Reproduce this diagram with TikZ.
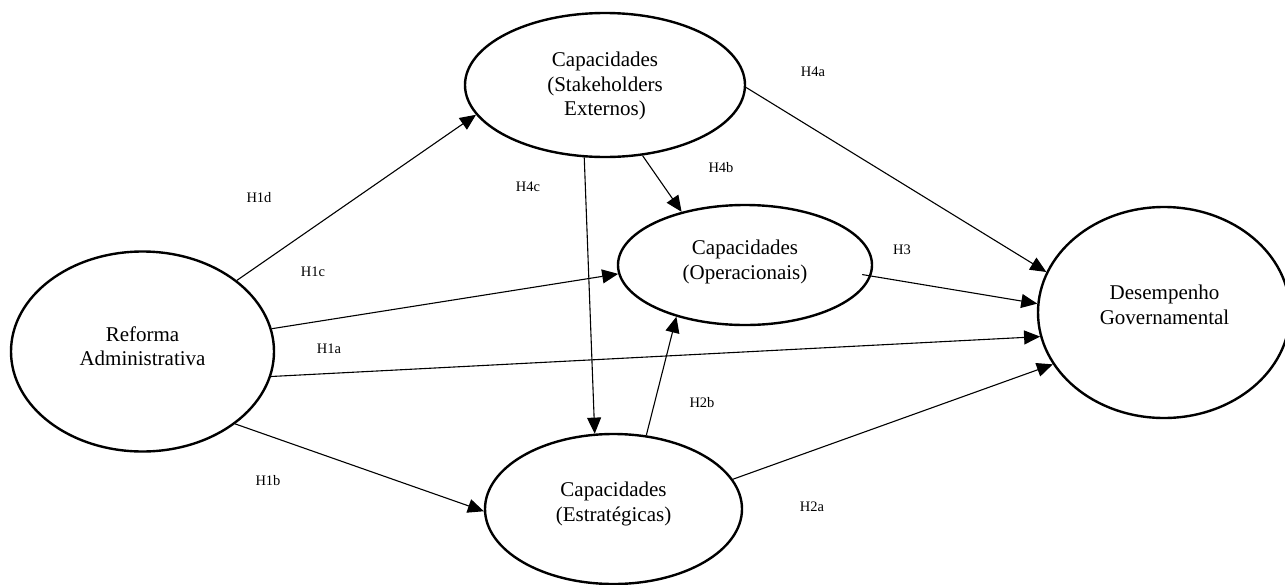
\documentclass[tikz,border=0pt]{standalone}
\usepackage{fontspec}
\setmainfont{Liberation Serif}
\usetikzlibrary{shapes.geometric,arrows.meta}

\begin{document}
\begin{tikzpicture}[x=1pt, y=-1pt,
    construct/.style={ellipse, draw, line width=2.4pt, inner sep=0pt},
    ctext/.style={align=center, font=\fontsize{21}{24.5}\selectfont},
    hyp/.style={font=\fontsize{14.5}{17}\selectfont},
    link/.style={line width=1.1pt, -{Triangle[length=16pt, width=14pt]}}
    ]
  \useasboundingbox (0,0) rectangle (1285,584);

  %--- Constructs (ellipses)
  \node[construct, minimum width=263pt, minimum height=200pt] (reforma) at (142.5,351.5) {};
  \node[construct, minimum width=280pt, minimum height=144pt] (stake) at (605,85) {};
  \node[construct, minimum width=254pt, minimum height=120pt] (oper) at (745,265) {};
  \node[construct, minimum width=257pt, minimum height=150pt] (estrat) at (613.5,509) {};
  \node[construct, minimum width=252pt, minimum height=211pt] (desemp) at (1164,312.5) {};

  %--- Construct names
  \node[ctext] (reforma-txt) at (142.5,346) {Reforma\\Administrativa};
  \node[ctext] (stake-txt) at (605,86) {Capacidades\\(Stakeholders\\Externos)};
  \node[ctext] (oper-txt) at (745,262) {Capacidades\\(Operacionais)};
  \node[ctext] (estrat-txt) at (613.5,504) {Capacidades\\(Estratégicas)};
  \node[ctext] (desemp-txt) at (1164.5,305) {Desempenho\\Governamental};

  %--- Hypotheses paths
  \draw[link] (reforma.37.5) -- (stake.193);
  \draw[link] (reforma.10.6) -- (oper.184);
  \draw[link] (reforma.349) -- (desemp.191.2);
  \draw[link] (reforma.322.6) -- (estrat.181);
  \draw[link] (stake.254) -- (estrat.104.9);
  \draw[link] (stake.298) -- (oper.140);
  \draw[link] (stake.359) -- (desemp.161.2);
  \draw[link, shorten <=-9pt] (oper.355.6) -- (desemp.176.6);
  \draw[link] (estrat.66.1) -- (oper.217.6);
  \draw[link] (estrat.14) -- (desemp.205.4);

  %--- Hypotheses labels
  \node[hyp] (h1a) at (329,349) {H1a};
  \node[hyp] (h1b) at (268,481) {H1b};
  \node[hyp] (h1c) at (313,272) {H1c};
  \node[hyp] (h1d) at (259,198) {H1d};
  \node[hyp] (h2a) at (812,507) {H2a};
  \node[hyp] (h2b) at (702,403) {H2b};
  \node[hyp] (h3) at (902,250) {H3};
  \node[hyp] (h4a) at (813,72) {H4a};
  \node[hyp] (h4b) at (721,168) {H4b};
  \node[hyp] (h4c) at (528,187) {H4c};

\end{tikzpicture}
\end{document}
